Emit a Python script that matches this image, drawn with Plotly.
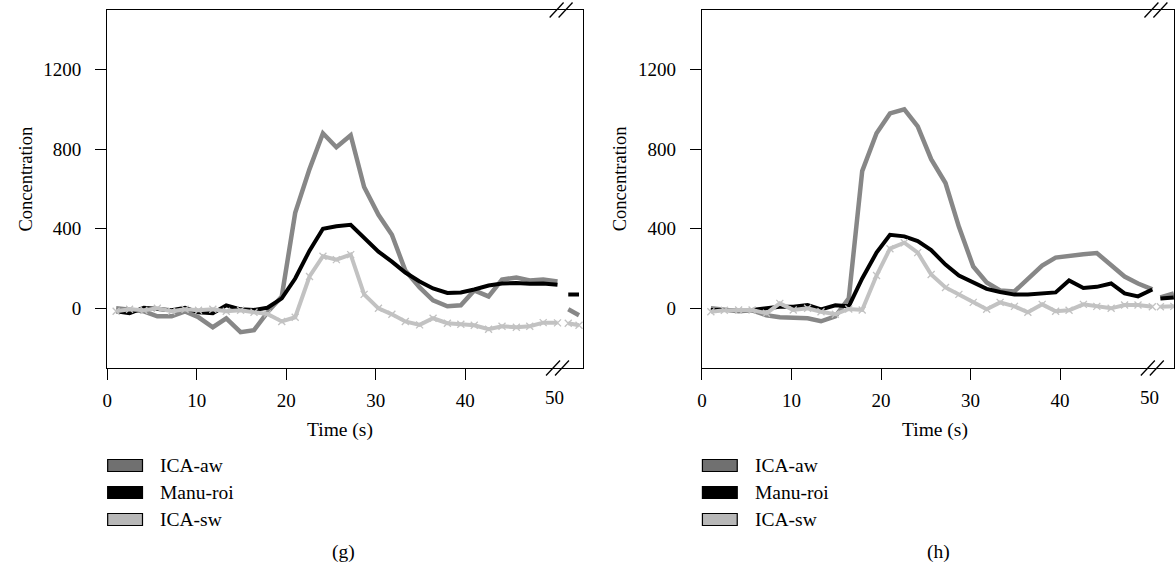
import plotly.graph_objects as go

# ---------------- data ----------------
time_s = [1.0, 2.5, 4.1, 5.6, 7.2, 8.7, 10.2, 11.8, 13.3, 14.9, 16.4, 17.9, 19.5, 21.0,
          22.6, 24.1, 25.6, 27.2, 28.7, 30.3, 31.8, 33.3, 34.9, 36.4, 38.0, 39.5, 41.0,
          42.6, 44.1, 45.7, 47.2, 48.7, 50.3]

# panel (g)
g_ica_aw = [0, -10, -15, -40, -40, -15, -45, -95, -50, -120, -110, -20, 60, 480,
            700, 880, 810, 870, 610, 470, 370, 190, 105, 40, 10, 15, 90,
            60, 145, 155, 140, 145, 135]
g_manu_roi = [-15, -25, 3, -5, -10, 3, -20, -25, 15, -5, -8, 3, 50, 150,
              290, 400, 413, 420, 355, 285, 235, 180, 135, 100, 77, 80, 95,
              115, 125, 127, 123, 125, 118]
g_ica_sw = [-15, -5, -10, 0, -15, -5, -10, -5, -15, -10, -20, -28, -66, -45,
            160, 262, 245, 270, 70, 0, -30, -66, -83, -50, -75, -80, -85,
            -105, -90, -95, -90, -72, -73]

g_tail_time = [51.5, 52.7]
g_tail_aw = [-5, -35]
g_tail_manu = [70, 70]
g_tail_sw = [-75, -85]

# panel (h)
h_ica_aw = [0, -10, -15, -10, -35, -45, -50, -50, -65, -40, 50, 690, 880, 980,
            1000, 915, 750, 630, 410, 210, 130, 90, 85, 145, 215, 255, 265,
            272, 278, 215, 160, 125, 95]
h_manu_roi = [-8, -8, -8, -8, 0, 8, 8, 17, -5, 15, 10, 150, 280, 370,
              362, 338, 293, 220, 165, 128, 98, 82, 69, 69, 75, 80, 140,
              102, 108, 125, 75, 60, 95]
h_ica_sw = [-17, -10, -8, -8, -25, 25, -8, 0, -17, -30, -3, -8, 165, 300,
            330, 280, 170, 105, 70, 30, -5, 30, 10, -20, 20, -15, -10,
            20, 10, 0, 17, 17, 8]

h_tail_time = [51.2, 52.7]
h_tail_aw = [55, 75]
h_tail_manu = [50, 55]
h_tail_sw = [8, 10]

series_names = ["ICA-aw", "Manu-roi", "ICA-sw"]
x_ticks = [0, 10, 20, 30, 40]
x_break_label = 50
y_ticks = [0, 400, 800, 1200]
captions = ["(g)", "(h)"]

# ---------------- styling ----------------
W, H = 1175, 576
FONT = "Liberation Serif"
line_colors = {"ICA-aw": "#878787", "Manu-roi": "#000000", "ICA-sw": "#c2c2c2"}
legend_fill = {"ICA-aw": "#707070", "Manu-roi": "#000000", "ICA-sw": "#b8b8b8"}

Y_RANGE = [-300, 1500]
X_RANGE_G = [0, 53.15]
X_RANGE_H = [0, 52.72]

def px_x(p):
    return p / W

def px_y(p):
    return 1 - p / H

fig = go.Figure()

panels = [
    ("x", "y", g_ica_aw, g_manu_roi, g_ica_sw, g_tail_time, g_tail_aw, g_tail_manu, g_tail_sw),
    ("x2", "y2", h_ica_aw, h_manu_roi, h_ica_sw, h_tail_time, h_tail_aw, h_tail_manu, h_tail_sw),
]

for xa, ya, aw, manu, sw, tt, taw, tmanu, tsw in panels:
    for name, main, tail in [("ICA-aw", aw, taw), ("Manu-roi", manu, tmanu), ("ICA-sw", sw, tsw)]:
        xs = list(time_s) + [None] + list(tt)
        ys = list(main) + [None] + list(tail)
        kw = dict(x=xs, y=ys, xaxis=xa, yaxis=ya, name=name, showlegend=False,
                  connectgaps=False, hoverinfo="skip")
        if name == "ICA-sw":
            fig.add_trace(go.Scatter(mode="lines+markers",
                                     line=dict(color=line_colors[name], width=4),
                                     marker=dict(symbol="x-thin", size=7,
                                                 line=dict(color=line_colors[name], width=1.3),
                                                 color=line_colors[name]),
                                     **kw))
        else:
            fig.add_trace(go.Scatter(mode="lines",
                                     line=dict(color=line_colors[name], width=4.5 if name == "ICA-aw" else 4),
                                     **kw))

tickfont = dict(family=FONT, size=19, color="black")
axis_common = dict(showline=True, linecolor="black", linewidth=1.3, mirror=True,
                   ticks="outside", ticklen=11, tickwidth=1.3, tickcolor="black",
                   showgrid=False, zeroline=False, tickfont=tickfont)

y_dom = [px_y(368), px_y(10)]
x_dom_g = [px_x(102.7), px_x(581)]
x_dom_h = [px_x(700.5), 1.0]

fig.update_layout(
    width=W, height=H,
    margin=dict(l=0, r=0, t=0, b=0),
    paper_bgcolor="white", plot_bgcolor="white",
    xaxis=dict(domain=x_dom_g, range=X_RANGE_G, anchor="y", tickmode="array",
               tickvals=x_ticks, ticklabelstandoff=4, **axis_common),
    yaxis=dict(domain=y_dom, range=Y_RANGE, anchor="x", tickmode="array",
               tickvals=y_ticks, ticklabelstandoff=10, **axis_common),
    xaxis2=dict(domain=x_dom_h, range=X_RANGE_H, anchor="y2", tickmode="array",
                tickvals=x_ticks, ticklabelstandoff=4, **axis_common),
    yaxis2=dict(domain=y_dom, range=Y_RANGE, anchor="x2", tickmode="array",
                tickvals=y_ticks, ticklabelstandoff=10, **axis_common),
)

annotations = []
shapes = []
txt = dict(family=FONT, size=19.5, color="black")
tick_txt = dict(family=FONT, size=19, color="black")
ytitle_txt = dict(family=FONT, size=18.5, color="black")

for i, (xa, xr, x0px) in enumerate([("x", X_RANGE_G, 102.7), ("x2", X_RANGE_H, 700.5)]):
    ya = "y" if i == 0 else "y2"
    # "50" label at the axis break
    annotations.append(dict(x=x_break_label, xref=xa, y=px_y(397), yref="paper",
                            text=str(x_break_label), showarrow=False, font=tick_txt,
                            xanchor="center", yanchor="middle"))
    # axis titles
    annotations.append(dict(x=px_x(x0px + 234), y=px_y(430), xref="paper", yref="paper",
                            text="Time (s)", showarrow=False, font=txt,
                            xanchor="center", yanchor="middle"))
    annotations.append(dict(x=px_x(x0px - 82), y=px_y(179), xref="paper", yref="paper",
                            text="Concentration", showarrow=False, font=ytitle_txt, textangle=-90,
                            xanchor="center", yanchor="middle"))
    # caption
    annotations.append(dict(x=px_x(x0px + 238), y=px_y(552), xref="paper", yref="paper",
                            text=captions[i], showarrow=False, font=txt,
                            xanchor="center", yanchor="middle"))
    # legend
    for j, name in enumerate(series_names):
        cy = 465.5 + j * 27
        shapes.append(dict(type="rect", xref="paper", yref="paper",
                           x0=px_x(x0px + 0.5), x1=px_x(x0px + 35.5),
                           y0=px_y(cy + 6), y1=px_y(cy - 6),
                           fillcolor=legend_fill[name], line=dict(color="black", width=1.2)))
        annotations.append(dict(x=px_x(x0px + 51), y=px_y(cy), xref="paper", yref="paper",
                                text=name, showarrow=False, font=txt,
                                xanchor="left", yanchor="middle"))
    # axis break marks (top and bottom)
    span = xr[1] - xr[0]
    dx = 0.78 / span
    dy = 7.5 / 358
    for cx in (50.2, 51.2):
        shapes.append(dict(type="line", xref=xa + " domain", yref=ya + " domain",
                           x0=cx / span - dx, x1=cx / span + dx, y0=1 - dy, y1=1 + dy,
                           line=dict(color="black", width=1.3)))
    for cx in (49.8, 50.8):
        shapes.append(dict(type="line", xref=xa + " domain", yref=ya + " domain",
                           x0=cx / span - dx, x1=cx / span + dx, y0=-dy, y1=dy,
                           line=dict(color="black", width=1.3)))

fig.update_layout(annotations=annotations, shapes=shapes)
fig.write_html("out.html",
               config={"displayModeBar": False},
               post_script="document.body.style.margin='0';"
                           "document.body.style.overflow='hidden';")
